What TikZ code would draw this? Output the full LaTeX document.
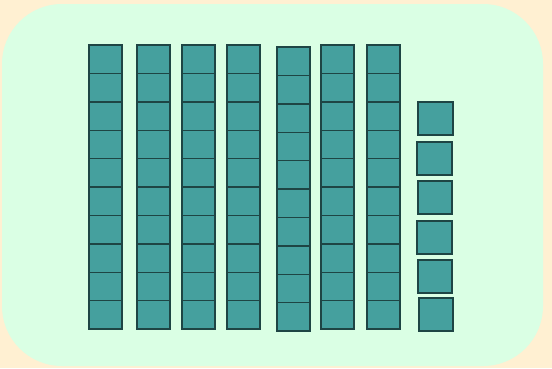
\documentclass[tikz,border=0pt]{standalone}
\definecolor{outerbg}{HTML}{FFF0D2}
\definecolor{innerbg}{HTML}{DAFFE4}
\definecolor{blockfill}{HTML}{45A09E}
\definecolor{blockline}{HTML}{1E4544}
\tikzset{
  unitcell/.style={draw=blockline, fill=blockfill, line width=1.4pt, line join=miter},
}
\begin{document}
\begin{tikzpicture}[x=1pt,y=-1pt]
\useasboundingbox (0,0) rectangle (552,368);
\fill[outerbg] (0,0) rectangle (552,368);
\fill[innerbg, rounded corners=60pt] (2,4) rectangle (543,366);
% ten-rods
\foreach \xl/\xr/\yt/\yb in {89/122/45/329, 137/170/45/329, 182/215/45/329, 227/260/45/329, 277/310/47/331, 321/354/45/329, 367/400/45/329}{
  \pgfmathsetmacro{\h}{(\yb-\yt)/10}
  \foreach \i in {0,...,9}{
    \draw[unitcell] (\xl,{\yt+\i*\h}) rectangle (\xr,{\yt+(\i+1)*\h});
  }
}
% single units
\foreach \xl/\xr/\yt/\yb in {418/453/102/135, 417/452/142/175, 418/452/181/214, 417/452/221/254, 418/452/260/293, 419/453/298/331}{
  \draw[unitcell] (\xl,\yt) rectangle (\xr,\yb);
}
\end{tikzpicture}
\end{document}
